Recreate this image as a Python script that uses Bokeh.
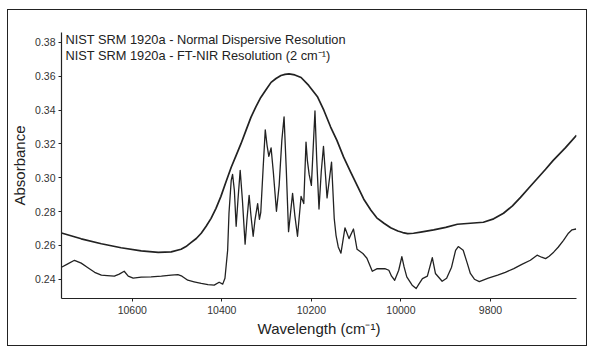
from bokeh.plotting import figure
from bokeh.models import Range1d, Label, FixedTicker, NumeralTickFormatter
from bokeh.embed import file_html
from bokeh.resources import INLINE

# Normal dispersive resolution spectrum (smooth)
disp_wn = [10758, 10714, 10669, 10625, 10580, 10542, 10513, 10491, 10480, 10469,
           10457, 10446, 10435, 10424, 10413, 10402, 10391, 10379, 10368, 10357,
           10346, 10335, 10324, 10313, 10301, 10290, 10279, 10268, 10259, 10250,
           10237, 10223, 10206, 10186, 10172, 10157, 10143, 10128, 10112, 10096,
           10083, 10067, 10054, 10038, 10023, 10007, 9996, 9985, 9972, 9956,
           9927, 9900, 9874, 9845, 9816, 9793, 9771, 9751, 9733, 9715,
           9695, 9677, 9660, 9633, 9608]
disp_abs = [0.2673, 0.2639, 0.2610, 0.2586, 0.2568, 0.2559, 0.2562, 0.2577, 0.2593, 0.2616,
            0.2641, 0.2672, 0.2713, 0.2760, 0.2819, 0.2890, 0.2973, 0.3062, 0.3132, 0.3203,
            0.3280, 0.3357, 0.3419, 0.3475, 0.3522, 0.3564, 0.3587, 0.3605, 0.3611, 0.3614,
            0.3608, 0.3593, 0.3546, 0.3477, 0.3398, 0.3300, 0.3221, 0.3122, 0.3032, 0.2945,
            0.2873, 0.2808, 0.2763, 0.2731, 0.2704, 0.2685, 0.2676, 0.2670, 0.2672, 0.2679,
            0.2692, 0.2707, 0.2725, 0.2731, 0.2737, 0.2757, 0.2790, 0.2834, 0.2884, 0.2938,
            0.2997, 0.3050, 0.3103, 0.3177, 0.3251]

# FT-NIR resolution (2 cm-1) spectrum
ft_wn = [10758, 10745, 10729, 10714, 10699, 10684, 10669, 10656, 10640, 10629,
         10618, 10609, 10598, 10580, 10558, 10535, 10513, 10498, 10489, 10476,
         10462, 10446, 10431, 10417, 10406, 10398, 10393, 10387, 10384, 10379,
         10376, 10372, 10368, 10364, 10359, 10354, 10348, 10344, 10339, 10335,
         10330, 10326, 10320, 10316, 10313, 10308, 10303, 10299, 10295, 10290,
         10285, 10278, 10272, 10266, 10261, 10256, 10251, 10242, 10237, 10231,
         10223, 10217, 10212, 10209, 10205, 10200, 10192, 10188, 10183, 10178,
         10173, 10169, 10165, 10155, 10149, 10145, 10140, 10134, 10125, 10116,
         10106, 10098, 10085, 10076, 10064, 10053, 10045, 10036, 10027, 10021,
         10014, 10005, 9998, 9993, 9987, 9975, 9966, 9960, 9952, 9941,
         9930, 9923, 9908, 9898, 9887, 9878, 9872, 9861, 9852, 9845,
         9836, 9825, 9805, 9784, 9767, 9748, 9729, 9711, 9696, 9686,
         9677, 9669, 9659, 9649, 9637, 9626, 9618, 9609]
ft_abs = [0.2471, 0.2489, 0.2512, 0.2495, 0.2468, 0.2441, 0.2424, 0.2421, 0.2418, 0.2430,
          0.2447, 0.2418, 0.2406, 0.2412, 0.2414, 0.2418, 0.2424, 0.2427, 0.2418, 0.2394,
          0.2385, 0.2375, 0.2368, 0.2365, 0.2382, 0.2371, 0.2406, 0.2571, 0.2790, 0.2985,
          0.3020, 0.2926, 0.2713, 0.2867, 0.3044, 0.2867, 0.2607, 0.2749, 0.2896, 0.2778,
          0.2654, 0.2749, 0.2847, 0.2754, 0.2796, 0.3044, 0.3283, 0.3192, 0.3126, 0.3177,
          0.3034, 0.2802, 0.2955, 0.3221, 0.3360, 0.3044, 0.2681, 0.2908, 0.2778, 0.2654,
          0.2890, 0.2847, 0.3211, 0.3103, 0.3020, 0.2955, 0.3395, 0.3103, 0.2815, 0.3034,
          0.3186, 0.3034, 0.2881, 0.3093, 0.2759, 0.2660, 0.2591, 0.2554, 0.2704, 0.2640,
          0.2697, 0.2577, 0.2552, 0.2524, 0.2447, 0.2463, 0.2462, 0.2463, 0.2453, 0.2418,
          0.2394, 0.2453, 0.2533, 0.2473, 0.2414, 0.2365, 0.2345, 0.2371, 0.2404, 0.2418,
          0.2527, 0.2434, 0.2388, 0.2406, 0.2471, 0.2571, 0.2593, 0.2571, 0.2495, 0.2434,
          0.2400, 0.2386, 0.2406, 0.2424, 0.2441, 0.2463, 0.2489, 0.2512, 0.2542, 0.2530,
          0.2522, 0.2536, 0.2560, 0.2589, 0.2630, 0.2672, 0.2692, 0.2697]

x_ticks = [10600, 10400, 10200, 10000, 9800]
y_ticks = [0.24, 0.26, 0.28, 0.30, 0.32, 0.34, 0.36, 0.38]
series_labels = ["NIST SRM 1920a - Normal Dispersive Resolution",
                 "NIST SRM 1920a - FT-NIR Resolution (2 cm\u207b\u00b9)"]

FONT = "Liberation Sans"
INK = "#222222"

p = figure(width=580, height=337, output_backend="svg", toolbar_location=None,
           x_range=Range1d(10758, 9608), y_range=Range1d(0.2286, 0.3859),
           min_border_left=51, min_border_right=12, min_border_top=22, min_border_bottom=49)
p.styles = {"margin-left": "7px", "margin-top": "9px", "border": "1.5px solid #222222"}
p.outline_line_color = None
p.background_fill_color = "white"
p.border_fill_color = "white"
p.xgrid.visible = False
p.ygrid.visible = False

p.line(disp_wn, disp_abs, line_color=INK, line_width=1.7, line_join="round")
p.line(ft_wn, ft_abs, line_color=INK, line_width=1.3, line_join="round")

for ax in (p.xaxis[0], p.yaxis[0]):
    ax.axis_line_color = INK
    ax.axis_line_width = 1.2
    ax.major_tick_line_color = INK
    ax.major_tick_in = 0
    ax.major_tick_out = 3
    ax.minor_tick_line_color = None
    ax.major_label_text_font = FONT
    ax.major_label_text_font_size = "10.5px"
    ax.major_label_text_color = "#333333"
    ax.axis_label_text_font = FONT
    ax.axis_label_text_font_size = "15px"
    ax.axis_label_text_font_style = "normal"
    ax.axis_label_text_color = INK

p.xaxis.ticker = FixedTicker(ticks=x_ticks)
p.yaxis.ticker = FixedTicker(ticks=y_ticks)
p.yaxis.formatter = NumeralTickFormatter(format="0.00")
p.xaxis.axis_label = "Wavelength (cm\u207b\u00b9)"
p.yaxis.axis_label = "Absorbance"
p.xaxis.major_label_standoff = 4
p.yaxis.major_label_standoff = 3
p.xaxis.axis_label_standoff = 3
p.yaxis.axis_label_standoff = 4

label_y = [0.3815, 0.3723]
for txt, yy in zip(series_labels, label_y):
    p.add_layout(Label(x=10749, y=yy, text=txt, text_font=FONT, text_font_size="12.8px",
                       text_color=INK, text_baseline="middle", text_align="left"))

open("out.html", "w").write(file_html(p, INLINE))
